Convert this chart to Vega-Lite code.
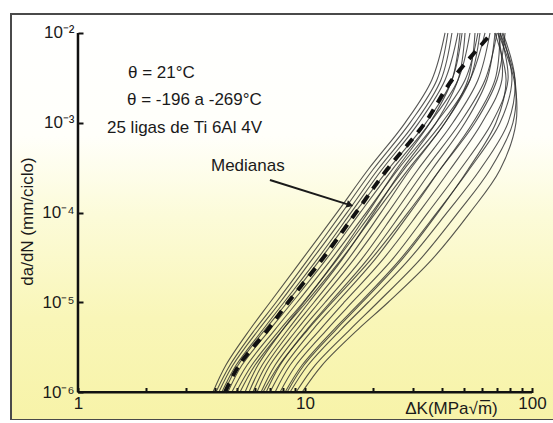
{
  "$schema": "https://vega.github.io/schema/vega-lite/v6.json",
  "width": 562,
  "height": 406,
  "autosize": {"type": "none"},
  "padding": {"left": 11, "top": 14, "right": -20, "bottom": 0},
  "background": "#ffffff",
  "config": {
    "font": "Liberation Sans",
    "view": {
      "stroke": "#4a4a4a",
      "strokeWidth": 2,
      "fill": {"gradient": "linear", "x1": 0, "y1": 0, "x2": 0, "y2": 1,
        "stops": [
          {"offset": 0, "color": "#ffffff"},
          {"offset": 0.3, "color": "#fffffa"},
          {"offset": 0.5, "color": "#fcfbd8"},
          {"offset": 0.75, "color": "#f9f6b8"},
          {"offset": 1, "color": "#f7f3a8"}
        ]}
    }
  },
  "datasets": {
    "curves": [
      {"c":"C1","dk":3.93,"da":1e-6},{"c":"C1","dk":4.48,"da":2e-6},{"c":"C1","dk":5.72,"da":5e-6},{"c":"C1","dk":7.01,"da":1e-5},{"c":"C1","dk":9.70,"da":3e-5},{"c":"C1","dk":13.83,"da":1e-4},{"c":"C1","dk":18.95,"da":3e-4},{"c":"C1","dk":27.6,"da":1e-3},{"c":"C1","dk":36.2,"da":3e-3},{"c":"C1","dk":41.4,"da":1e-2},
      {"c":"C2","dk":4.05,"da":1e-6},{"c":"C2","dk":4.67,"da":2e-6},{"c":"C2","dk":6.02,"da":5e-6},{"c":"C2","dk":7.45,"da":1e-5},{"c":"C2","dk":10.3,"da":3e-5},{"c":"C2","dk":14.56,"da":1e-4},{"c":"C2","dk":19.9,"da":3e-4},{"c":"C2","dk":29.0,"da":1e-3},{"c":"C2","dk":38.1,"da":3e-3},{"c":"C2","dk":42.6,"da":1e-2},
      {"c":"C3","dk":4.17,"da":1e-6},{"c":"C3","dk":4.81,"da":2e-6},{"c":"C3","dk":6.26,"da":5e-6},{"c":"C3","dk":7.76,"da":1e-5},{"c":"C3","dk":10.73,"da":3e-5},{"c":"C3","dk":15.31,"da":1e-4},{"c":"C3","dk":20.9,"da":3e-4},{"c":"C3","dk":30.5,"da":1e-3},{"c":"C3","dk":39.7,"da":3e-3},{"c":"C3","dk":44.4,"da":1e-2},
      {"c":"C4","dk":4.30,"da":1e-6},{"c":"C4","dk":4.97,"da":2e-6},{"c":"C4","dk":6.53,"da":5e-6},{"c":"C4","dk":8.07,"da":1e-5},{"c":"C4","dk":11.29,"da":3e-5},{"c":"C4","dk":15.95,"da":1e-4},{"c":"C4","dk":21.8,"da":3e-4},{"c":"C4","dk":31.7,"da":1e-3},{"c":"C4","dk":41.4,"da":3e-3},{"c":"C4","dk":47.2,"da":1e-2},
      {"c":"C5","dk":4.57,"da":1e-6},{"c":"C5","dk":5.27,"da":2e-6},{"c":"C5","dk":7.01,"da":5e-6},{"c":"C5","dk":8.76,"da":1e-5},{"c":"C5","dk":12.37,"da":3e-5},{"c":"C5","dk":17.5,"da":1e-4},{"c":"C5","dk":24.2,"da":3e-4},{"c":"C5","dk":35.5,"da":1e-3},{"c":"C5","dk":47.2,"da":3e-3},{"c":"C5","dk":53.3,"da":1e-2},
      {"c":"C6","dk":4.76,"da":1e-6},{"c":"C6","dk":5.55,"da":2e-6},{"c":"C6","dk":7.38,"da":5e-6},{"c":"C6","dk":9.22,"da":1e-5},{"c":"C6","dk":13.02,"da":3e-5},{"c":"C6","dk":18.6,"da":1e-4},{"c":"C6","dk":25.6,"da":3e-4},{"c":"C6","dk":37.8,"da":1e-3},{"c":"C6","dk":50.7,"da":3e-3},{"c":"C6","dk":57.8,"da":1e-2},
      {"c":"C7","dk":4.97,"da":1e-6},{"c":"C7","dk":5.83,"da":2e-6},{"c":"C7","dk":7.76,"da":5e-6},{"c":"C7","dk":9.80,"da":1e-5},{"c":"C7","dk":13.83,"da":3e-5},{"c":"C7","dk":19.7,"da":1e-4},{"c":"C7","dk":27.2,"da":3e-4},{"c":"C7","dk":40.1,"da":1e-3},{"c":"C7","dk":53.3,"da":3e-3},{"c":"C7","dk":62.1,"da":1e-2},
      {"c":"C8","dk":5.44,"da":1e-6},{"c":"C8","dk":6.20,"da":2e-6},{"c":"C8","dk":7.99,"da":5e-6},{"c":"C8","dk":9.89,"da":1e-5},{"c":"C8","dk":13.70,"da":3e-5},{"c":"C8","dk":18.95,"da":1e-4},{"c":"C8","dk":25.2,"da":3e-4},{"c":"C8","dk":35.5,"da":1e-3},{"c":"C8","dk":44.4,"da":3e-3},{"c":"C8","dk":48.2,"da":1e-2},
      {"c":"C9","dk":5.66,"da":1e-6},{"c":"C9","dk":6.47,"da":2e-6},{"c":"C9","dk":8.42,"da":5e-6},{"c":"C9","dk":10.4,"da":1e-5},{"c":"C9","dk":14.56,"da":3e-5},{"c":"C9","dk":20.1,"da":1e-4},{"c":"C9","dk":26.7,"da":3e-4},{"c":"C9","dk":37.8,"da":1e-3},{"c":"C9","dk":47.2,"da":3e-3},{"c":"C9","dk":50.7,"da":1e-2},
      {"c":"C10","dk":5.89,"da":1e-6},{"c":"C10","dk":6.74,"da":2e-6},{"c":"C10","dk":8.76,"da":5e-6},{"c":"C10","dk":10.94,"da":1e-5},{"c":"C10","dk":15.46,"da":3e-5},{"c":"C10","dk":21.6,"da":1e-4},{"c":"C10","dk":29.0,"da":3e-4},{"c":"C10","dk":41.4,"da":1e-3},{"c":"C10","dk":53.3,"da":3e-3},{"c":"C10","dk":59.0,"da":1e-2},
      {"c":"C11","dk":6.14,"da":1e-6},{"c":"C11","dk":7.01,"da":2e-6},{"c":"C11","dk":9.22,"da":5e-6},{"c":"C11","dk":11.51,"da":1e-5},{"c":"C11","dk":16.4,"da":3e-5},{"c":"C11","dk":23.2,"da":1e-4},{"c":"C11","dk":31.4,"da":3e-4},{"c":"C11","dk":44.8,"da":1e-3},{"c":"C11","dk":57.8,"da":3e-3},{"c":"C11","dk":65.3,"da":1e-2},
      {"c":"C12","dk":6.40,"da":1e-6},{"c":"C12","dk":7.38,"da":2e-6},{"c":"C12","dk":9.70,"da":5e-6},{"c":"C12","dk":12.25,"da":1e-5},{"c":"C12","dk":17.7,"da":3e-5},{"c":"C12","dk":24.9,"da":1e-4},{"c":"C12","dk":33.8,"da":3e-4},{"c":"C12","dk":48.2,"da":1e-3},{"c":"C12","dk":62.1,"da":3e-3},{"c":"C12","dk":70.1,"da":1e-2},
      {"c":"C13","dk":6.74,"da":1e-6},{"c":"C13","dk":7.76,"da":2e-6},{"c":"C13","dk":10.2,"da":5e-6},{"c":"C13","dk":12.89,"da":1e-5},{"c":"C13","dk":18.8,"da":3e-5},{"c":"C13","dk":26.7,"da":1e-4},{"c":"C13","dk":36.2,"da":3e-4},{"c":"C13","dk":50.7,"da":1e-3},{"c":"C13","dk":63.3,"da":3e-3},{"c":"C13","dk":68.7,"da":1e-2},
      {"c":"C14","dk":7.01,"da":1e-6},{"c":"C14","dk":8.17,"da":2e-6},{"c":"C14","dk":10.84,"da":5e-6},{"c":"C14","dk":13.83,"da":1e-5},{"c":"C14","dk":20.3,"da":3e-5},{"c":"C14","dk":29.0,"da":1e-4},{"c":"C14","dk":39.3,"da":3e-4},{"c":"C14","dk":54.9,"da":1e-3},{"c":"C14","dk":68.7,"da":3e-3},{"c":"C14","dk":72.3,"da":1e-2},
      {"c":"C15","dk":7.38,"da":1e-6},{"c":"C15","dk":8.59,"da":2e-6},{"c":"C15","dk":11.65,"da":5e-6},{"c":"C15","dk":14.84,"da":1e-5},{"c":"C15","dk":22.0,"da":3e-5},{"c":"C15","dk":31.7,"da":1e-4},{"c":"C15","dk":43.5,"da":3e-4},{"c":"C15","dk":60.2,"da":1e-3},{"c":"C15","dk":73.7,"da":3e-3},{"c":"C15","dk":70.8,"da":1e-2},
      {"c":"C16","dk":7.76,"da":1e-6},{"c":"C16","dk":9.13,"da":2e-6},{"c":"C16","dk":12.5,"da":5e-6},{"c":"C16","dk":16.1,"da":1e-5},{"c":"C16","dk":24.2,"da":3e-5},{"c":"C16","dk":34.8,"da":1e-4},{"c":"C16","dk":48.2,"da":3e-4},{"c":"C16","dk":66.6,"da":1e-3},{"c":"C16","dk":78.4,"da":3e-3},{"c":"C16","dk":72.3,"da":1e-2},
      {"c":"C17","dk":8.17,"da":1e-6},{"c":"C17","dk":9.70,"da":2e-6},{"c":"C17","dk":13.4,"da":5e-6},{"c":"C17","dk":17.5,"da":1e-5},{"c":"C17","dk":26.2,"da":3e-5},{"c":"C17","dk":38.1,"da":1e-4},{"c":"C17","dk":52.8,"da":3e-4},{"c":"C17","dk":72.3,"da":1e-3},{"c":"C17","dk":81.6,"da":3e-3},{"c":"C17","dk":73.7,"da":1e-2},
      {"c":"C18","dk":8.59,"da":1e-6},{"c":"C18","dk":10.3,"da":2e-6},{"c":"C18","dk":14.41,"da":5e-6},{"c":"C18","dk":18.95,"da":1e-5},{"c":"C18","dk":28.7,"da":3e-5},{"c":"C18","dk":42.2,"da":1e-4},{"c":"C18","dk":59.0,"da":3e-4},{"c":"C18","dk":78.4,"da":1e-3},{"c":"C18","dk":84.2,"da":3e-3},{"c":"C18","dk":74.5,"da":1e-2},
      {"c":"C19","dk":9.13,"da":1e-6},{"c":"C19","dk":11.07,"da":2e-6},{"c":"C19","dk":15.79,"da":5e-6},{"c":"C19","dk":20.9,"da":1e-5},{"c":"C19","dk":32.1,"da":3e-5},{"c":"C19","dk":47.2,"da":1e-4},{"c":"C19","dk":65.3,"da":3e-4},{"c":"C19","dk":82.4,"da":1e-3},{"c":"C19","dk":84.2,"da":3e-3},{"c":"C19","dk":72.3,"da":1e-2},
      {"c":"C20","dk":9.70,"da":1e-6},{"c":"C20","dk":11.88,"da":2e-6},{"c":"C20","dk":17.1,"da":5e-6},{"c":"C20","dk":23.2,"da":1e-5},{"c":"C20","dk":36.2,"da":3e-5},{"c":"C20","dk":53.3,"da":1e-4},{"c":"C20","dk":72.3,"da":3e-4},{"c":"C20","dk":85.0,"da":1e-3},{"c":"C20","dk":83.4,"da":3e-3},{"c":"C20","dk":70.8,"da":1e-2},
      {"c":"C21","dk":5.17,"da":1e-6},{"c":"C21","dk":6.02,"da":2e-6},{"c":"C21","dk":7.99,"da":5e-6},{"c":"C21","dk":10.1,"da":1e-5},{"c":"C21","dk":14.41,"da":3e-5},{"c":"C21","dk":20.5,"da":1e-4},{"c":"C21","dk":28.4,"da":3e-4},{"c":"C21","dk":41.4,"da":1e-3},{"c":"C21","dk":52.2,"da":3e-3},{"c":"C21","dk":56.1,"da":1e-2},
      {"c":"C22","dk":4.40,"da":1e-6},{"c":"C22","dk":5.07,"da":2e-6},{"c":"C22","dk":6.67,"da":5e-6},{"c":"C22","dk":8.34,"da":1e-5},{"c":"C22","dk":11.65,"da":3e-5},{"c":"C22","dk":16.6,"da":1e-4},{"c":"C22","dk":23.2,"da":3e-4},{"c":"C22","dk":34.1,"da":1e-3},{"c":"C22","dk":44.4,"da":3e-3},{"c":"C22","dk":49.2,"da":1e-2},
      {"c":"C23","dk":6.53,"da":1e-6},{"c":"C23","dk":7.68,"da":2e-6},{"c":"C23","dk":10.3,"da":5e-6},{"c":"C23","dk":13.15,"da":1e-5},{"c":"C23","dk":19.5,"da":3e-5},{"c":"C23","dk":28.4,"da":1e-4},{"c":"C23","dk":39.3,"da":3e-4},{"c":"C23","dk":56.1,"da":1e-3},{"c":"C23","dk":70.1,"da":3e-3},{"c":"C23","dk":76.1,"da":1e-2},
      {"c":"C24","dk":8.34,"da":1e-6},{"c":"C24","dk":9.89,"da":2e-6},{"c":"C24","dk":13.70,"da":5e-6},{"c":"C24","dk":17.85,"da":1e-5},{"c":"C24","dk":26.7,"da":3e-5},{"c":"C24","dk":38.5,"da":1e-4},{"c":"C24","dk":52.2,"da":3e-4},{"c":"C24","dk":69.4,"da":1e-3},{"c":"C24","dk":76.9,"da":3e-3},{"c":"C24","dk":68.7,"da":1e-2}
    ],
    "median": [
      {"dk":4.44,"da":1e-6},{"dk":5.12,"da":2e-6},{"dk":6.87,"da":5e-6},{"dk":8.42,"da":1e-5},{"dk":11.88,"da":3e-5},{"dk":16.77,"da":1e-4},{"dk":22.95,"da":3e-4},{"dk":33.8,"da":1e-3},{"dk":44.4,"da":3e-3},{"dk":66.6,"da":1e-2}
    ],
    "axes": [
      {"dk":1,"dk2":100,"da":1e-6,"da2":1e-6},
      {"dk":1,"dk2":1,"da":1e-6,"da2":1e-2}
    ],
    "arrow": [
      {"dk":7.01,"da":2.314e-4},{"dk":15.3,"da":1.245e-4}
    ],
    "tip": [
      {"dk":15.79,"da":1.22e-4}
    ],
    "notes": [
      {"t":"θ = 21°C","dk":1.661,"da":3.59e-3},
      {"t":"θ = -196 a -269°C","dk":1.644,"da":1.797e-3},
      {"t":"25 ligas de Ti 6Al 4V","dk":1.342,"da":8.77e-4},
      {"t":"Medianas","dk":3.854,"da":3.31e-4}
    ]
  },
  "layer": [
    {
      "data": {"name": "curves"},
      "mark": {"type": "line", "interpolate": "catmull-rom", "stroke": "#2a2a2a", "strokeWidth": 1.1, "opacity": 0.8},
      "encoding": {
        "x": {"field": "dk", "type": "quantitative",
          "scale": {"type": "log", "domain": [0.5069, 151.6], "nice": false},
          "axis": {
            "values": [1,2,3,4,5,6,7,8,9,10,20,30,40,50,60,70,80,90,100],
            "format": "d",
            "labelExpr": "datum.value == 1 || datum.value == 10 || datum.value == 100 ? datum.label : ''",
            "domain": false, "grid": false,
            "ticks": true, "tickSize": -5, "tickWidth": 2, "tickColor": "#111111",
            "offset": -27.5,
            "labelFont": "Liberation Sans", "labelFontSize": 17, "labelColor": "#1a1a1a",
            "labelPadding": 8, "labelFlush": false, "labelOverlap": false,
            "title": "ΔK(MPa√m̅)",
            "titleFont": "Liberation Sans", "titleFontSize": 17, "titleFontWeight": "normal", "titleColor": "#1a1a1a",
            "titleX": 440, "titleY": 16, "titleBaseline": "middle", "titleAlign": "center"
          }},
        "y": {"field": "da", "type": "quantitative",
          "scale": {"type": "log", "domain": [4.92e-7, 0.016267], "nice": false},
          "axis": {
            "values": [0.01, 0.001, 0.0001, 0.00001, 0.000001],
            "labelExpr": "'10' + (round(log(datum.value)/LN10) == -2 ? '⁻²' : round(log(datum.value)/LN10) == -3 ? '⁻³' : round(log(datum.value)/LN10) == -4 ? '⁻⁴' : round(log(datum.value)/LN10) == -5 ? '⁻⁵' : '⁻⁶')",
            "domain": false, "grid": false,
            "ticks": true, "tickSize": -5, "tickWidth": 2, "tickColor": "#111111",
            "offset": -67,
            "labelFont": "Liberation Sans", "labelFontSize": 17, "labelColor": "#1a1a1a",
            "labelPadding": 9, "labelOverlap": false,
            "title": "da/dN (mm/ciclo)",
            "titleFont": "Liberation Sans", "titleFontSize": 17, "titleFontWeight": "normal", "titleColor": "#1a1a1a",
            "titleX": -51, "titleY": 207, "titleAngle": -90, "titleBaseline": "middle", "titleAlign": "center"
          }},
        "detail": {"field": "c", "type": "nominal"},
        "order": {"field": "da", "type": "quantitative"}
      }
    },
    {
      "data": {"name": "median"},
      "mark": {"type": "line", "interpolate": "catmull-rom", "stroke": "#111111", "strokeWidth": 4, "strokeDash": [10, 8], "strokeCap": "butt"},
      "encoding": {
        "x": {"field": "dk", "type": "quantitative"},
        "y": {"field": "da", "type": "quantitative"},
        "order": {"field": "da", "type": "quantitative"}
      }
    },
    {
      "data": {"name": "axes"},
      "mark": {"type": "rule", "stroke": "#111111", "strokeWidth": 2.5},
      "encoding": {
        "x": {"field": "dk", "type": "quantitative"},
        "x2": {"field": "dk2"},
        "y": {"field": "da", "type": "quantitative"},
        "y2": {"field": "da2"}
      }
    },
    {
      "data": {"name": "arrow"},
      "mark": {"type": "line", "stroke": "#1a1a1a", "strokeWidth": 2},
      "encoding": {
        "x": {"field": "dk", "type": "quantitative"},
        "y": {"field": "da", "type": "quantitative"}
      }
    },
    {
      "data": {"name": "tip"},
      "mark": {"type": "point", "shape": "triangle-right", "filled": true, "fill": "#1a1a1a", "opacity": 1, "size": 60, "angle": 17},
      "encoding": {
        "x": {"field": "dk", "type": "quantitative"},
        "y": {"field": "da", "type": "quantitative"}
      }
    },
    {
      "data": {"name": "notes"},
      "mark": {"type": "text", "align": "left", "baseline": "middle", "font": "Liberation Sans", "fontSize": 17, "fill": "#1a1a1a"},
      "encoding": {
        "x": {"field": "dk", "type": "quantitative"},
        "y": {"field": "da", "type": "quantitative"},
        "text": {"field": "t"}
      }
    }
  ]
}
